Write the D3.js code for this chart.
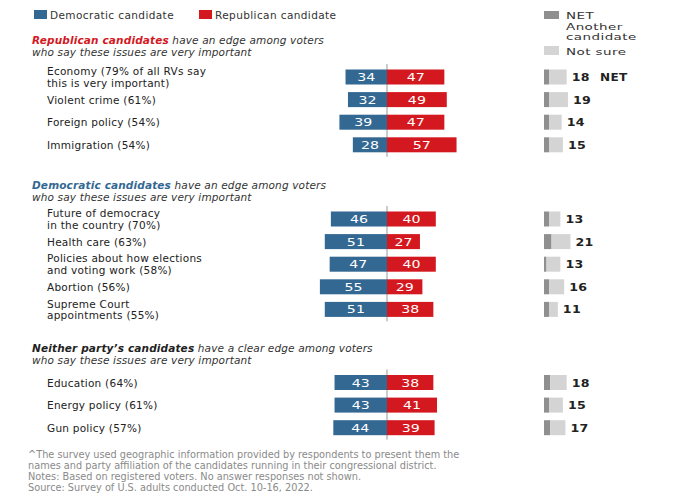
<!DOCTYPE html>
<html>
<head>
<meta charset="utf-8">
<script src="https://cdn.jsdelivr.net/npm/d3@7"></script>
<style>
  body { margin: 0; background: #fff; }
  svg { display: block; font-family: "DejaVu Sans", Verdana, sans-serif; }
</style>
</head>
<body>
<svg width="676" height="494"></svg>
<script>
var issues = [
  "Economy (79% of all RVs say|this is very important)",
  "Violent crime (61%)",
  "Foreign policy (54%)",
  "Immigration (54%)",
  "Future of democracy|in the country (70%)",
  "Health care (63%)",
  "Policies about how elections|and voting work (58%)",
  "Abortion (56%)",
  "Supreme Court|appointments (55%)",
  "Education (64%)",
  "Energy policy (61%)",
  "Gun policy (57%)"
];
var sectionOf = [0, 0, 0, 0, 1, 1, 1, 1, 1, 2, 2, 2];
var demValues = [34, 32, 39, 28, 46, 51, 47, 55, 51, 43, 43, 44];
var repValues = [47, 49, 47, 57, 40, 27, 40, 29, 38, 38, 41, 39];
var anotherValues = [4, 4, 4, 4, 4, 6, 2, 4, 4, 5, 4, 5];
var notSureValues = [14, 15, 10, 11, 9, 15, 11, 12, 7, 13, 11, 12];
var netValues = [18, 19, 14, 15, 13, 21, 13, 16, 11, 18, 15, 17];

var sectionBold = ["Republican candidates", "Democratic candidates", "Neither party\u2019s candidates"];
var sectionRest = [
  " have an edge among voters",
  " have an edge among voters",
  " have a clear edge among voters"
];
var sectionLine2 = "who say these issues are very important";

var notes = [
  "^The survey used geographic information provided by respondents to present them the",
  "names and party affiliation of the candidates running in their congressional district.",
  "Notes: Based on registered voters. No answer responses not shown.",
  "Source: Survey of U.S. adults conducted Oct. 10-16, 2022."
];

var blue = "#336893", red = "#d3191f", darkGray = "#8f8f8f", lightGray = "#d4d4d4";
var svg = d3.select("svg");

var cx = 387, barH = 15, step = 22.6,
    rightX = 544;
var firstRowY = [77, 219, 382.5];
var titleY = [40, 185, 348.3];
var sectionColor = [red, blue, "#222"];

var x = d3.scaleLinear().domain([0, 100]).range([0, 122]);
var xs = d3.scaleLinear().domain([0, 100]).range([0, 126]);

var rows = issues.map(function(label, i) {
  var s = sectionOf[i];
  var idx = sectionOf.slice(0, i).filter(function(v) { return v === s; }).length;
  return {
    label: label, s: s, y: firstRowY[s] + idx * step,
    dem: demValues[i], rep: repValues[i],
    another: anotherValues[i], notSure: notSureValues[i], net: netValues[i], i: i
  };
});

// wide text: the reference glyphs are stretched horizontally
function wideText(parent, tx, ty, sx) {
  return parent.append("text")
      .attr("transform", "translate(" + tx + "," + ty + ") scale(" + sx + ",1)");
}

// legend
var legend = [
  {x: 34, color: blue, text: "Democratic candidate"},
  {x: 199, color: red, text: "Republican candidate"}
];
legend.forEach(function(d) {
  svg.append("rect").attr("x", d.x).attr("y", 10).attr("width", 13).attr("height", 9).attr("fill", d.color);
  svg.append("text").attr("x", d.x + 16).attr("y", 18.5).attr("font-size", 10.5)
      .attr("letter-spacing", 0.4).attr("fill", "#333").text(d.text);
});
svg.append("rect").attr("x", 544).attr("y", 11).attr("width", 15).attr("height", 8).attr("fill", darkGray);
["NET", "Another", "candidate"].forEach(function(t, k) {
  wideText(svg, 566, 19 + k * 10.6, 1.42).attr("font-size", 9.5)
      .attr("letter-spacing", 0.3).attr("fill", "#333").text(t);
});
svg.append("rect").attr("x", 544).attr("y", 46).attr("width", 15).attr("height", 9).attr("fill", lightGray);
wideText(svg, 566, 55, 1.42).attr("font-size", 9.5)
    .attr("letter-spacing", 0.3).attr("fill", "#333").text("Not sure");

// section titles
titleY.forEach(function(ty, s) {
  var t = svg.append("text").attr("x", 32).attr("y", ty + 4).attr("font-size", 10.5)
      .attr("letter-spacing", 0.15).attr("font-style", "italic").attr("fill", "#333");
  t.append("tspan").attr("font-weight", "bold").attr("fill", sectionColor[s]).text(sectionBold[s]);
  t.append("tspan").text(sectionRest[s]);
  svg.append("text").attr("x", 32).attr("y", ty + 15.7).attr("font-size", 10.5)
      .attr("letter-spacing", 0.15).attr("font-style", "italic").attr("fill", "#333").text(sectionLine2);
});

// center lines
[0, 1, 2].forEach(function(s) {
  var r = rows.filter(function(d) { return d.s === s; });
  svg.append("line")
      .attr("x1", cx).attr("x2", cx)
      .attr("y1", r[0].y - 13).attr("y2", r[r.length - 1].y + 12)
      .attr("stroke", "#999").attr("stroke-width", 1);
});

var row = svg.selectAll("g.row").data(rows).enter().append("g").attr("class", "row");

// labels
row.each(function(d) {
  var lines = d.label.split("|");
  var g = d3.select(this);
  lines.forEach(function(l, k) {
    g.append("text")
        .attr("x", 47)
        .attr("y", d.y + 4 + (k - (lines.length - 1) / 2) * 11.5)
        .attr("font-size", 10.5)
        .attr("letter-spacing", 0.25)
        .attr("fill", "#222")
        .text(l);
  });
});

row.append("rect")
    .attr("x", function(d) { return cx - x(d.dem); })
    .attr("y", function(d) { return d.y - barH / 2; })
    .attr("width", function(d) { return x(d.dem); })
    .attr("height", barH)
    .attr("fill", blue);

row.append("rect")
    .attr("x", cx)
    .attr("y", function(d) { return d.y - barH / 2; })
    .attr("width", function(d) { return x(d.rep); })
    .attr("height", barH)
    .attr("fill", red);

// values inside the bars
row.each(function(d) {
  var g = d3.select(this);
  wideText(g, cx - x(d.dem) / 2, d.y + 4, 1.35)
      .attr("text-anchor", "middle").attr("font-size", 10.5).attr("fill", "#fff")
      .text(d.dem);
  wideText(g, cx + x(d.rep) / 2, d.y + 4, 1.35)
      .attr("text-anchor", "middle").attr("font-size", 10.5).attr("fill", "#fff")
      .text(d.rep);
});

// NET another / not sure
row.append("rect")
    .attr("x", rightX)
    .attr("y", function(d) { return d.y - barH / 2; })
    .attr("width", function(d) { return xs(d.another); })
    .attr("height", barH)
    .attr("fill", darkGray);

row.append("rect")
    .attr("x", function(d) { return rightX + xs(d.another); })
    .attr("y", function(d) { return d.y - barH / 2; })
    .attr("width", function(d) { return xs(d.notSure); })
    .attr("height", barH)
    .attr("fill", lightGray);

row.each(function(d) {
  wideText(d3.select(this), rightX + xs(d.another + d.notSure) + 5, d.y + 4, 1.2)
      .attr("font-size", 10.5).attr("font-weight", "bold").attr("fill", "#222")
      .attr("letter-spacing", 0.3)
      .text(d.net);
});

wideText(svg, 600, rows[0].y + 4, 1.15)
    .attr("font-size", 10.5).attr("font-weight", "bold").attr("fill", "#222")
    .attr("letter-spacing", 0.3)
    .text("NET");

// notes
notes.forEach(function(n, k) {
  svg.append("text").attr("x", 28).attr("y", 458 + k * 10.9)
      .attr("font-size", 9.75).attr("fill", "#8a8a8a").text(n);
});
</script>
</body>
</html>
